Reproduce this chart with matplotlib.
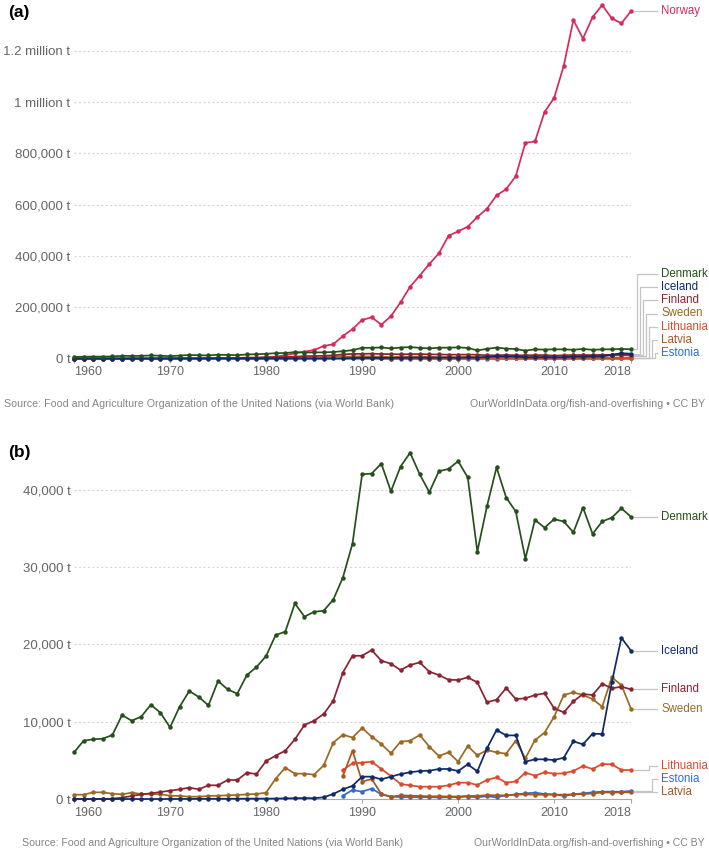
import matplotlib.pyplot as plt
from matplotlib.lines import Line2D
import numpy as np

plt.rcParams['font.family'] = ['Liberation Sans', 'DejaVu Sans']

# ---- data (tonnes, aquaculture production) ----
years = list(range(1960, 2019))
baltic_years = list(range(1988, 2019))

norway = [0, 0, 0, 0, 0, 0, 0, 0, 0, 0,
          500, 700, 900, 1200, 1500, 1800, 2200, 2800, 3500, 4200,
          5000, 8000, 13000, 20600, 27000, 33500, 49000, 56000, 88200, 115000,
          150600, 161000, 132500, 165000, 219500, 280500, 323400, 368800, 410400, 479200,
          496100, 514300, 552000, 584500, 636100, 660600, 711000, 841300, 846500, 961300,
          1016800, 1141900, 1320000, 1247700, 1331600, 1378100, 1326500, 1307100, 1354800]

denmark = [6030, 7540, 7720, 7800, 8280, 10860, 10130, 10650, 12200, 11160,
           9270, 11940, 13970, 13190, 12110, 15260, 14180, 13620, 16030, 17070,
           18490, 21210, 21640, 25300, 23580, 24220, 24350, 25800, 28650, 33050,
           42000, 42100, 43400, 39800, 43000, 44800, 42000, 39700, 42400, 42700,
           43700, 41600, 32000, 37850, 42900, 39000, 37200, 31100, 36100, 35100,
           36200, 35900, 34500, 37700, 34300, 35900, 36400, 37600, 36500]

iceland = [0, 0, 0, 0, 0, 0, 0, 0, 0, 0,
           0, 10, 10, 20, 20, 30, 30, 40, 40, 50,
           50, 60, 80, 100, 120, 100, 220, 650, 1250, 1700,
           2890, 2890, 2540, 2890, 3230, 3450, 3620, 3660, 3880, 3880,
           3620, 4480, 3580, 6550, 8920, 8230, 8230, 4830, 5130, 5130,
           5040, 5340, 7460, 7070, 8450, 8410, 15090, 20860, 19180]

finland = [0, 0, 0, 0, 50, 170, 390, 600, 730, 900,
           1080, 1250, 1470, 1250, 1770, 1770, 2460, 2460, 3400, 3230,
           4910, 5600, 6250, 7720, 9570, 10130, 10990, 12700, 16360, 18530,
           18530, 19270, 17890, 17500, 16680, 17330, 17670, 16470, 16030, 15430,
           15390, 15730, 15090, 12520, 12840, 14350, 12930, 13020, 13450, 13660,
           11720, 11210, 12630, 13580, 13450, 14910, 14310, 14530, 14180]

sweden = [560, 560, 860, 860, 690, 600, 820, 650, 650, 600,
          430, 390, 300, 300, 390, 430, 470, 520, 600, 650,
          820, 2630, 4050, 3280, 3280, 3150, 4350, 7300, 8320, 7950,
          9180, 8060, 7110, 5910, 7410, 7540, 8280, 6770, 5560, 6030,
          4830, 6850, 5650, 6340, 6030, 5860, 7540, 5260, 7630, 8580,
          10650, 13450, 13790, 13450, 12930, 11940, 15730, 14740, 11680]

lithuania = [3750, 4610, 4700, 4830, 3880, 2970, 1940, 1770, 1590, 1590,
             1590, 1770, 2110, 2110, 1810, 2460, 2800, 2110, 2280, 3410,
             3020, 3450, 3280, 3320, 3620, 4270, 3880, 4530, 4480, 3750, 3750]

latvia = [2970, 6250, 2240, 2590, 650, 300, 470, 430, 390, 340,
          350, 330, 320, 400, 400, 500, 480, 470, 550, 600,
          560, 550, 560, 560, 600, 650, 700, 850, 830, 850, 870]

estonia = [430, 1160, 950, 1340, 600, 300, 250, 250, 230, 250,
           200, 220, 250, 300, 220, 370, 220, 470, 600, 730,
           820, 650, 600, 390, 600, 730, 860, 950, 950, 950, 1030]

colors = {
    'Norway': '#d52a5c',
    'Denmark': '#24501a',
    'Iceland': '#0f2a6a',
    'Finland': '#8a2332',
    'Sweden': '#9a6a24',
    'Lithuania': '#dc4a2e',
    'Latvia': '#a9561d',
    'Estonia': '#2f6cc8',
}

series = {
    'Norway': (years, norway),
    'Denmark': (years, denmark),
    'Iceland': (years, iceland),
    'Finland': (years, finland),
    'Sweden': (years, sweden),
    'Lithuania': (baltic_years, lithuania),
    'Latvia': (baltic_years, latvia),
    'Estonia': (baltic_years, estonia),
}

xticks = [1960, 1970, 1980, 1990, 2000, 2010, 2018]
yticks_a = [0, 200000, 400000, 600000, 800000, 1000000, 1200000]
ylabels_a = ['0 t', '200,000 t', '400,000 t', '600,000 t', '800,000 t', '1 million t', '1.2 million t']
yticks_b = [0, 10000, 20000, 30000, 40000]
ylabels_b = ['0 t', '10,000 t', '20,000 t', '30,000 t', '40,000 t']

source_left = 'Source: Food and Agriculture Organization of the United Nations (via World Bank)'
source_right = 'OurWorldInData.org/fish-and-overfishing \u2022 CC BY'

# ---- layout (pixels) ----
W, H = 709, 850
fig = plt.figure(figsize=(W / 100, H / 100), dpi=100)


def px_rect(left, top, right, bottom):
    return [left / W, 1 - bottom / H, (right - left) / W, (bottom - top) / H]


GRAY_TXT = '#666666'


def style(ax, yticks, ylabels, ytop):
    ax.set_xlim(1960, 2018)
    ax.set_ylim(0, ytop)
    for s in ['top', 'right', 'left']:
        ax.spines[s].set_visible(False)
    ax.spines['bottom'].set_color('#a8a8a8')
    ax.spines['bottom'].set_linewidth(0.8)
    ax.set_yticks(yticks)
    ax.set_yticklabels(ylabels)
    ax.yaxis.grid(True, color='#d6d6d6', linestyle=(0, (2, 2)), linewidth=0.8)
    ax.set_axisbelow(True)
    ax.tick_params(axis='y', length=0, pad=2.5, labelsize=9.5, labelcolor=GRAY_TXT)
    ax.set_xticks(xticks)
    ax.set_xticklabels([str(x) for x in xticks])
    ax.tick_params(axis='x', length=3, width=0.8, color='#a8a8a8', pad=2.5,
                   labelsize=9, labelcolor=GRAY_TXT)
    labs = ax.get_xticklabels()
    labs[0].set_horizontalalignment('left')
    labs[-1].set_horizontalalignment('right')


def draw_lines(ax, names):
    for name in names:
        xs, vs = series[name]
        ax.plot(xs, vs, color=colors[name], lw=1.25, marker='o', ms=2.2,
                clip_on=False, zorder=3)


def add_labels(ax, bottom_to_top, ax_bottom_px, spacing=13.2, min_off=5.5):
    # end positions in pixels from top
    data_y = []
    for name in bottom_to_top:
        xs, vs = series[name]
        d = ax.transData.transform((xs[-1], vs[-1]))
        data_y.append(H - d[1])
    lab_y = []
    for i, y in enumerate(data_y):
        if i == 0:
            lab_y.append(min(y, ax_bottom_px - min_off))
        else:
            lab_y.append(min(y, lab_y[-1] - spacing))
    x_end = ax.transData.transform((2018, 0))[0]
    for j, name in enumerate(bottom_to_top):
        y0, ly = data_y[j], lab_y[j]
        x0, x1 = x_end + 3, 657
        if abs(y0 - ly) > 0.6:
            ex = 654.5 - 2.95 * j
            xs_ = [x0, ex, ex, x1]
            ys_ = [y0, y0, ly, ly]
        else:
            xs_ = [x0, x1]
            ys_ = [ly, ly]
        fig.add_artist(Line2D([v / W for v in xs_], [1 - v / H for v in ys_],
                              transform=fig.transFigure, color='#c4c4c4', lw=0.9))
        fig.text(661 / W, 1 - ly / H, name, color=colors[name], fontsize=8.3,
                 va='center', ha='left')


# ---- panel (a) ----
a_bottom = 358.6
a_ytop = 1390000
ax_a = fig.add_axes(px_rect(74, a_bottom - a_ytop / 200000 * 51.3, 631, a_bottom))
style(ax_a, yticks_a, ylabels_a, a_ytop)
draw_lines(ax_a, ['Norway', 'Estonia', 'Latvia', 'Lithuania', 'Sweden', 'Finland',
                  'Iceland', 'Denmark'])
add_labels(ax_a, ['Estonia', 'Latvia', 'Lithuania', 'Sweden', 'Finland', 'Iceland',
                  'Denmark', 'Norway'], a_bottom)

fig.text(8 / W, 1 - 12 / H, '(a)', fontsize=12.5, fontweight='bold', va='center')
fig.text(4 / W, 1 - 404 / H, source_left, fontsize=7.7, color='#858585', va='center')
fig.text(705 / W, 1 - 404 / H, source_right, fontsize=7.7, color='#858585',
         va='center', ha='right')

# ---- panel (b) ----
b_bottom = 799.0
b_ytop = 45500
ax_b = fig.add_axes(px_rect(74, b_bottom - b_ytop / 10000 * 77.3, 631, b_bottom))
style(ax_b, yticks_b, ylabels_b, b_ytop)
draw_lines(ax_b, ['Estonia', 'Latvia', 'Lithuania', 'Sweden', 'Finland', 'Iceland',
                  'Denmark'])
add_labels(ax_b, ['Latvia', 'Estonia', 'Lithuania', 'Sweden', 'Finland', 'Iceland',
                  'Denmark'], b_bottom)

fig.text(8 / W, 1 - 453 / H, '(b)', fontsize=12.5, fontweight='bold', va='center')
fig.text(22 / W, 1 - 843 / H, source_left, fontsize=7.6, color='#858585', va='center')
fig.text(705 / W, 1 - 843 / H, source_right, fontsize=7.6, color='#858585',
         va='center', ha='right')

fig.savefig('out.png', dpi=100, facecolor='white')
